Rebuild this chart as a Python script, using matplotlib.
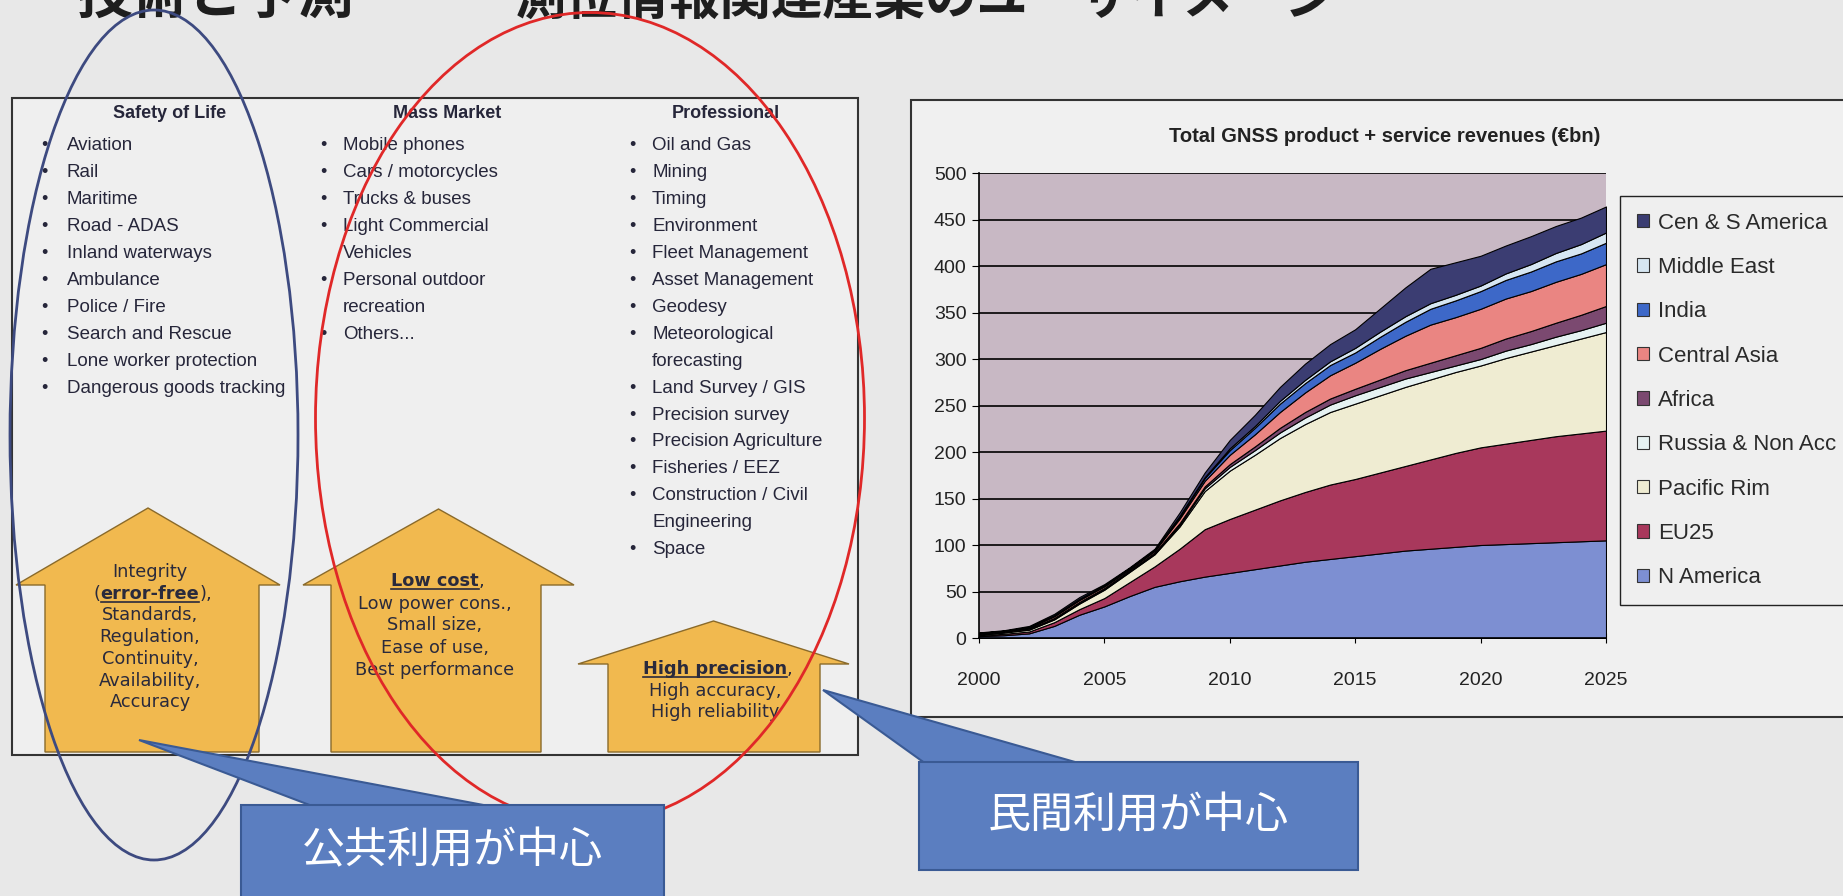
import matplotlib
matplotlib.use('Agg')
import matplotlib.pyplot as plt
from matplotlib.patches import Ellipse, Polygon, Rectangle, Patch

plt.rcParams['font.family'] = ['Liberation Sans', 'Noto Sans CJK JP', 'DejaVu Sans']

## chart data
years = list(range(2000, 2026))
n_america = [2, 3, 5, 13, 25, 34, 45, 55, 61, 66, 70, 74, 78, 82, 85, 88, 91, 94, 96, 98, 100, 101, 102, 103, 104, 105]
eu25 = [1, 1.5, 2, 4, 6, 9, 15, 22, 35, 51, 58, 64, 70, 75, 80, 83, 87, 91, 96, 101, 105, 108, 111, 114, 116, 118]
pacific_rim = [1, 1.5, 2, 3, 6, 9, 11, 13, 24, 41, 52, 59, 67, 73, 78, 81, 83, 85, 86, 87, 88, 92, 95, 98, 102, 106]
russia = [0.3, 0.4, 0.6, 1, 1, 1, 1, 1, 2, 3, 4, 5, 6, 7, 8, 9, 9, 9, 8, 7, 7, 8, 8, 9, 9, 10]
africa = [0.2, 0.3, 0.4, 0.6, 0.8, 0.8, 0.7, 0.8, 1.5, 2, 3, 4, 5, 6, 6.5, 7, 8, 9, 10, 11, 12, 13, 14, 15, 16.5, 18]
central_asia = [0.6, 0.7, 1.2, 1.8, 2, 1.8, 1.5, 1.8, 5, 6, 10, 13, 17, 21, 25, 28, 33, 37, 41, 41, 42, 43, 43, 44, 44, 45]
india = [0.3, 0.3, 0.5, 0.8, 1, 0.8, 0.7, 0.8, 2, 3, 5, 7, 9, 10, 11, 11, 13, 15, 17, 18, 19, 20, 21, 22, 22, 23]
middle_east = [0.1, 0.1, 0.2, 0.3, 0.4, 0.4, 0.3, 0.4, 1, 1, 2, 2, 3, 3.5, 4, 5, 5.5, 6, 6, 6, 6, 7, 8, 9, 10, 11]
cen_s_america = [0.5, 0.6, 1.1, 1.5, 1.8, 1.2, 0.8, 1.2, 3.5, 5, 9, 12, 15, 17.5, 18.5, 20, 25, 31, 37, 35, 32, 30, 30, 29, 28.5, 28]

series = [n_america, eu25, pacific_rim, russia, africa, central_asia, india, middle_east, cen_s_america]
series_labels = ['N America', 'EU25', 'Pacific Rim', 'Russia & Non Acc', 'Africa',
                 'Central Asia', 'India', 'Middle East', 'Cen & S America']
series_colors = ['#7d8fd2', '#a8385c', '#efecd2', '#e6f2f2', '#7b4970',
                 '#ea8582', '#3d68c8', '#d6e6f2', '#3b3d72']

## left panel text
safety_items = ['Aviation', 'Rail', 'Maritime', 'Road - ADAS', 'Inland waterways', 'Ambulance',
                'Police / Fire', 'Search and Rescue', 'Lone worker protection', 'Dangerous goods tracking']
mass_items = ['Mobile phones', 'Cars / motorcycles', 'Trucks & buses', 'Light Commercial\nVehicles',
              'Personal outdoor\nrecreation', 'Others...']
pro_items = ['Oil and Gas', 'Mining', 'Timing', 'Environment', 'Fleet Management', 'Asset Management',
             'Geodesy', 'Meteorological\nforecasting', 'Land Survey / GIS', 'Precision survey',
             'Precision Agriculture', 'Fisheries / EEZ', 'Construction / Civil\nEngineering', 'Space']

W, H = 1843, 896
ink = '#26263a'
arrow_ink = '#2a2a3c'
arrow_font = ['DejaVu Sans']
arrow_size = 12.8

fig = plt.figure(figsize=(W / 100, H / 100), dpi=100)
fig.patch.set_facecolor('#e8e8e8')
bg = fig.add_axes([0, 0, 1, 1])
bg.set_xlim(0, W)
bg.set_ylim(H, 0)
bg.axis('off')

# slide title, cut off at the top of the scan
bg.text(76, 26, '技術と予測', fontsize=40, fontweight='bold', color='#1e1e1e',
        family=['Noto Sans CJK JP'], va='bottom', ha='left')
bg.text(515, 26, '測位情報関連産業のユーザイメージ', fontsize=37, fontweight='bold', color='#1e1e1e',
        family=['Noto Sans CJK JP'], va='bottom', ha='left')

# panels
bg.add_patch(Rectangle((12, 98), 846, 657, facecolor='#efefef', edgecolor='#333333', lw=1.5, zorder=1))
bg.add_patch(Rectangle((911, 100), 980, 617, facecolor='#f0f0f0', edgecolor='#333333', lw=1.5, zorder=1))

# column headers
for cx, name in [(170, 'Safety of Life'), (447, 'Mass Market'), (726, 'Professional')]:
    bg.text(cx, 113, name, ha='center', va='center', fontsize=13, fontweight='bold', color=ink, zorder=3)

def bullets(items, bx, tx, y0=146, step=26.9):
    row = 0
    for item in items:
        bg.text(bx, y0 + row * step, '•', ha='center', va='center', fontsize=13, color=ink, zorder=3)
        for line in item.split('\n'):
            bg.text(tx, y0 + row * step, line, ha='left', va='center', fontsize=13.5, color=ink, zorder=3)
            row += 1

bullets(safety_items, 44, 67)
bullets(mass_items, 323, 343)
bullets(pro_items, 632, 652)

# up arrows
def up_arrow(hx0, hx1, sx0, sx1, apex, shoulder, bottom=752):
    pts = [(sx0, bottom), (sx0, shoulder), (hx0, shoulder), ((hx0 + hx1) / 2, apex),
           (hx1, shoulder), (sx1, shoulder), (sx1, bottom)]
    bg.add_patch(Polygon(pts, closed=True, facecolor='#f1b94f', edgecolor='#8a6a2a', lw=1.0, zorder=2))

up_arrow(16, 280, 45, 259, 508, 585)
up_arrow(303, 574, 331, 541, 509, 585)
up_arrow(578, 849, 608, 820, 621, 664)

renderer = fig.canvas.get_renderer()
to_data = bg.transData.inverted()

def plain(cx, y, s):
    bg.text(cx, y, s, ha='center', va='center', fontsize=arrow_size, family=arrow_font, color=arrow_ink, zorder=3)

def key_line(cx, y, key, tail='', head=''):
    t = bg.text(cx, y, key, ha='center', va='center', fontsize=arrow_size, fontweight='bold',
                family=arrow_font, color=arrow_ink, zorder=3)
    bb = t.get_window_extent(renderer)
    (x0, yb), (x1, _) = to_data.transform([(bb.x0, bb.y0), (bb.x1, bb.y1)])
    if head:
        bg.text(x0, y, head, ha='right', va='center', fontsize=arrow_size, family=arrow_font, color=arrow_ink, zorder=3)
    if tail:
        bg.text(x1, y, tail, ha='left', va='center', fontsize=arrow_size, family=arrow_font, color=arrow_ink, zorder=3)
    bg.plot([x0, x1], [yb - 1, yb - 1], color=arrow_ink, lw=1.2, zorder=3)

plain(150, 572, 'Integrity')
key_line(150, 594, 'error-free', tail='),', head='(')
for y, s in zip([615, 637, 659, 681, 702], ['Standards,', 'Regulation,', 'Continuity,', 'Availability,', 'Accuracy']):
    plain(150, y, s)

key_line(435, 581, 'Low cost', tail=',')
for y, s in zip([604, 625, 648, 670], ['Low power cons.,', 'Small size,', 'Ease of use,', 'Best performance']):
    plain(435, y, s)

key_line(715, 669, 'High precision', tail=',')
plain(715, 691, 'High accuracy,')
plain(715, 712, 'High reliability')

# hand-drawn ellipses
bg.add_patch(Ellipse((154, 435), 288, 850, facecolor='none', edgecolor='#3d4a80', lw=2.0, zorder=4))
bg.add_patch(Ellipse((590, 418), 549, 811, facecolor='none', edgecolor='#e02828', lw=2.0, zorder=4))

# callouts
def callout(box, tip, base, label, text_dy):
    x, y, w, h = box
    bg.add_patch(Polygon([tip, (base[0], y + 12), (base[1], y + 12)], closed=True,
                         facecolor='#5b7ec0', edgecolor='#3a5a94', lw=1.5, zorder=5))
    bg.add_patch(Rectangle((x, y), w, h, facecolor='#5b7ec0', edgecolor='#3a5a94', lw=1.5, zorder=6))
    bg.text(x + w / 2, y + text_dy, label, ha='center', va='center', fontsize=31, color='white',
            family=['Noto Sans CJK JP'], zorder=7)

callout((241, 805, 423, 120), (139, 740), (341, 547), '公共利用が中心', 46)
callout((919, 762, 439, 108), (823, 690), (940, 1117), '民間利用が中心', 54)

# revenue chart
bg.text(1385, 136, 'Total GNSS product + service revenues (€bn)', ha='center', va='center',
        fontsize=14.5, fontweight='bold', color='#222222', zorder=3)

ax = fig.add_axes([979 / W, (H - 638) / H, (1606 - 979) / W, (638 - 173) / H])
ax.set_facecolor('#c8b8c4')
ax.stackplot(years, *series, colors=series_colors, edgecolor='black', linewidth=0.8, zorder=3)
ax.set_xlim(2000, 2025)
ax.set_ylim(0, 500)
ax.set_yticks(range(0, 501, 50))
ax.set_xticks(range(2000, 2026, 5))
ax.yaxis.grid(True, color='black', lw=1.2)
ax.set_axisbelow(True)
for s in ['top', 'right']:
    ax.spines[s].set_visible(False)
for s in ['left', 'bottom']:
    ax.spines[s].set_color('black')
    ax.spines[s].set_linewidth(1.2)
    ax.spines[s].set_zorder(4)
ax.tick_params(axis='y', direction='out', length=5, pad=4, labelsize=14, labelcolor='#222222')
ax.tick_params(axis='x', direction='inout', length=7, pad=21, labelsize=14, labelcolor='#222222')

handles = [Patch(facecolor=c, edgecolor='#333333', lw=0.8) for c in series_colors][::-1]
leg = fig.legend(handles, series_labels[::-1], loc='upper left',
                 bbox_to_anchor=(1620 / W, 1 - 614 / H, 300 / W, (614 - 196) / H), mode='expand',
                 borderaxespad=0, fontsize=16, handlelength=0.55, handleheight=0.55, handletextpad=0.4,
                 labelspacing=1.05, borderpad=0.75, fancybox=False, edgecolor='#222222',
                 facecolor='#efefef', framealpha=1)
for t in leg.get_texts():
    t.set_color('#2a2a2a')

fig.savefig('out.png', dpi=100, facecolor=fig.get_facecolor())
